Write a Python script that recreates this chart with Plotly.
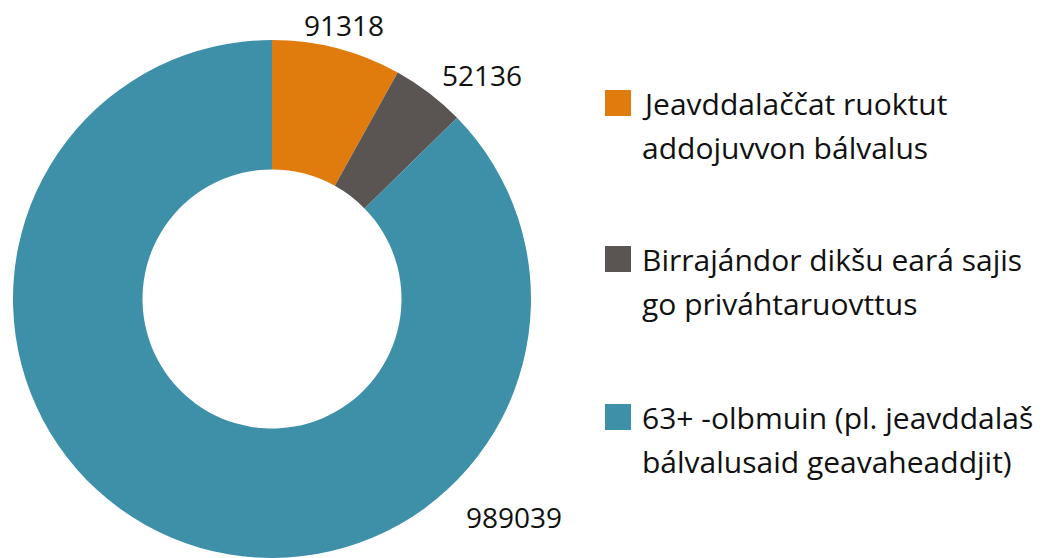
import plotly.graph_objects as go

# Data
categories = [
    "Jeavddalaččat ruoktut addojuvvon bálvalus",
    "Birrajándor dikšu eará sajis go priváhtaruovttus",
    "63+ -olbmuin (pl. jeavddalaš bálvalusaid geavaheaddjit)",
]
legend_lines = [
    ["Jeavddalaččat ruoktut", "addojuvvon bálvalus"],
    ["Birrajándor dikšu eará sajis", "go priváhtaruovttus"],
    ["63+ -olbmuin (pl. jeavddalaš", "bálvalusaid geavaheaddjit)"],
]
values = [91318, 52136, 989039]
colors = ["#E07C0E", "#5A5452", "#3D90A8"]

W, H = 1046, 558
FONT = "Open Sans"
FS_LABEL = 28
FS_LEGEND = 30


def px(x):
    return x / W


def py(y):
    return 1 - y / H


# pie geometry (pixels in the window)
cx, cy, R = 272, 299, 259

fig = go.Figure()
fig.add_trace(go.Pie(
    labels=categories,
    values=values,
    marker=dict(colors=colors, line=dict(width=0)),
    hole=0.5,
    sort=False,
    direction="clockwise",
    rotation=0,
    textinfo="none",
    showlegend=False,
    hoverinfo="label+value",
    domain=dict(x=[px(cx - R), px(cx + R)],
                y=[max(0, py(cy + R)), py(cy - R)]),
))

# value labels
label_pos = [(344, 25), (482, 75), (514, 517)]
for v, (lx, ly) in zip(values, label_pos):
    fig.add_annotation(x=px(lx), y=py(ly), xref="paper", yref="paper",
                       text=str(v), showarrow=False,
                       font=dict(family=FONT, size=FS_LABEL, color="#111111"),
                       xanchor="center", yanchor="middle", borderpad=0)

# legend (manual)
item_top = [90, 246, 404]
sq = 26
for lines, col, top in zip(legend_lines, colors, item_top):
    fig.add_shape(type="rect", xref="paper", yref="paper",
                  x0=px(605), x1=px(605 + sq),
                  y0=py(top), y1=py(top + sq),
                  fillcolor=col, line=dict(width=0))
    for i, ln in enumerate(lines):
        fig.add_annotation(x=px(640), y=py(top + 13 + i * 44),
                           xref="paper", yref="paper", text=ln,
                           showarrow=False, xanchor="left", yanchor="middle",
                           font=dict(family=FONT, size=FS_LEGEND, color="#111111"))

fig.update_layout(
    width=W, height=H,
    margin=dict(l=0, r=0, t=0, b=0),
    paper_bgcolor="white", plot_bgcolor="white",
    font=dict(family=FONT, size=FS_LABEL),
)
fig.write_html("out.html", config={"displayModeBar": False},
               post_script="document.body.style.margin='0px';")
